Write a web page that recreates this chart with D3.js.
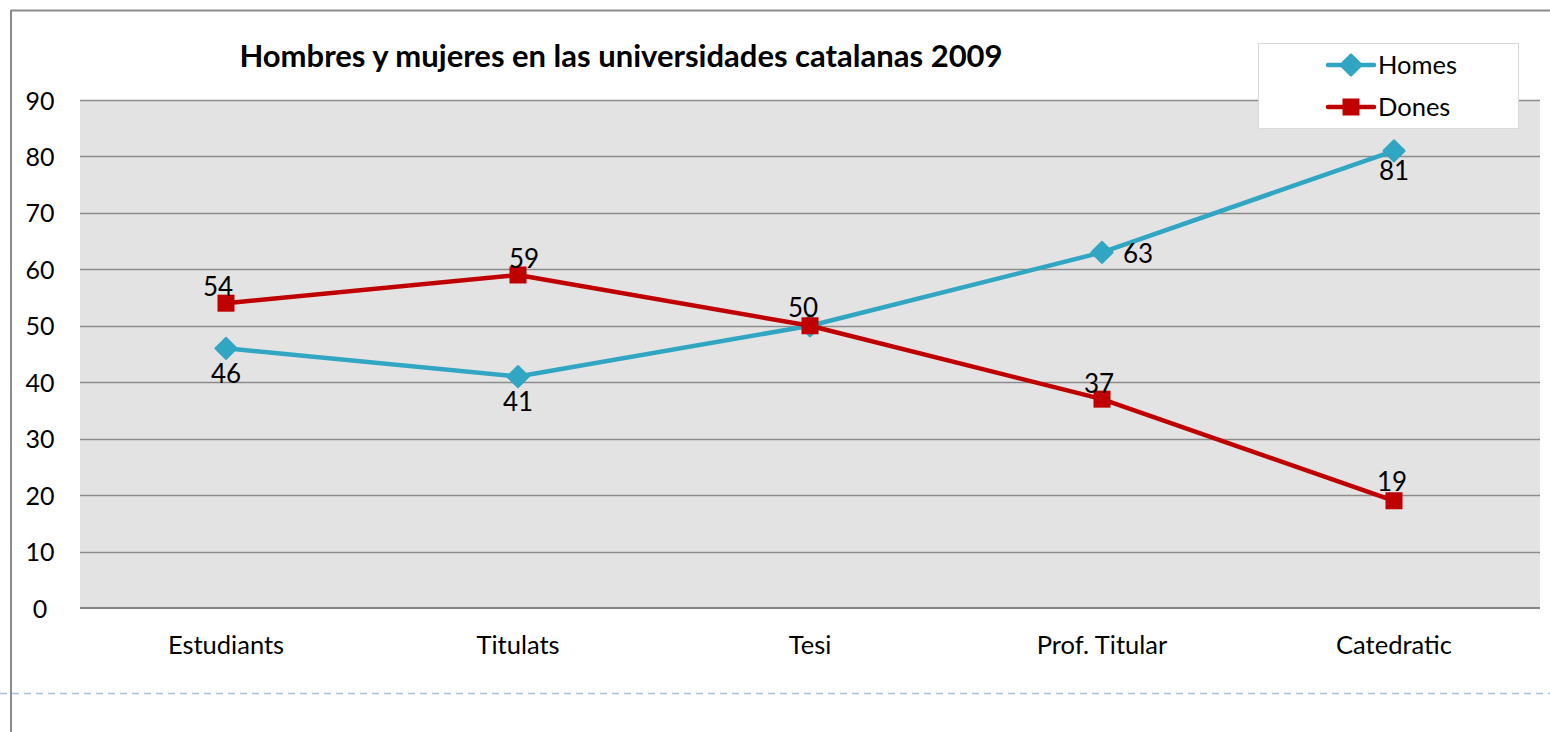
<!DOCTYPE html>
<html><head><meta charset="utf-8">
<script src="https://cdn.jsdelivr.net/npm/d3@7"></script>
<style>body{margin:0;background:#fff}svg{display:block}</style>
</head><body>
<svg id="c" width="1550" height="732"></svg>
<script>
const categories = ["Estudiants","Titulats","Tesi","Prof. Titular","Catedratic"];
const homes = [46,41,50,63,81];
const dones = [54,59,50,37,19];
const yTicks = [0,10,20,30,40,50,60,70,80,90];
const seriesNames = ["Homes","Dones"];
const title = "Hombres y mujeres en las universidades catalanas 2009";

const svg = d3.select("#c");
const font = "Lato, 'Open Sans', sans-serif";
const L=80, R=1540, T=100, B=608;
const x = d3.scaleBand().domain(categories).range([L,R]);
const y = d3.scaleLinear().domain([0,90]).range([B,T]);

// frame
svg.append("line").attr("x1",11).attr("x2",1550).attr("y1",10.5).attr("y2",10.5).attr("stroke","#8c8c8c").attr("stroke-width",2);
svg.append("line").attr("x1",11).attr("x2",11).attr("y1",10).attr("y2",732).attr("stroke","#8c8c8c").attr("stroke-width",2);
svg.append("line").attr("x1",0).attr("x2",1550).attr("y1",693.5).attr("y2",693.5).attr("stroke","#a6c0de").attr("stroke-width",1.5).attr("stroke-dasharray","7,5");

// plot bg
svg.append("rect").attr("x",L).attr("y",T).attr("width",R-L).attr("height",B-T).attr("fill","#e3e3e3");
// grid
svg.append("g").selectAll("line").data(yTicks.filter(d=>d>0)).join("line")
 .attr("x1",L).attr("x2",R).attr("y1",d=>Math.round(y(d))+0.5).attr("y2",d=>Math.round(y(d))+0.5)
 .attr("stroke","#8c8c8c").attr("stroke-width",1.3);
svg.append("line").attr("x1",L).attr("x2",R).attr("y1",B).attr("y2",B).attr("stroke","#858585").attr("stroke-width",2);

// y axis labels
const yAxis = d3.axisLeft(y).tickValues(yTicks).tickSize(0).tickPadding(0);
const gy = svg.append("g").attr("transform",`translate(${L-40},0)`).call(yAxis);
gy.select(".domain").remove();
gy.selectAll("text").attr("font-family",font).attr("font-size",25).attr("fill","#000").attr("text-anchor","middle").attr("dy","0.36em");

// x axis labels
const xAxis = d3.axisBottom(x).tickSize(0).tickPadding(0);
const gx = svg.append("g").attr("transform",`translate(0,${B+37})`).call(xAxis);
gx.select(".domain").remove();
gx.selectAll("text").attr("font-family",font).attr("font-size",25.5).attr("fill","#000").attr("dy","0.36em");

const cx = d=>x(d)+x.bandwidth()/2;
const colH = "#31a6c3", colD = "#c00000";
const line = d3.line().x((d,i)=>cx(categories[i])).y(d=>y(d));

svg.append("path").datum(homes).attr("d",line).attr("fill","none").attr("stroke",colH).attr("stroke-width",4.5).attr("stroke-linejoin","round");
svg.append("g").selectAll("path").data(homes).join("path")
 .attr("d",d3.symbol().type(d3.symbolDiamond2).size(270)())
 .attr("transform",(d,i)=>`translate(${cx(categories[i])},${y(d)})`)
 .attr("fill",colH).attr("stroke",colH).attr("stroke-width",2.5).attr("stroke-linejoin","round");

svg.append("path").datum(dones).attr("d",line).attr("fill","none").attr("stroke",colD).attr("stroke-width",4.5).attr("stroke-linejoin","round");
svg.append("g").selectAll("rect").data(dones).join("rect")
 .attr("x",(d,i)=>cx(categories[i])-8.5).attr("y",d=>y(d)-8.5).attr("width",17).attr("height",17).attr("fill",colD);

// labels (centres relative to points)
const hdx = [0,0,0,36,0], hdy = [25,25,25,1,20];
const ddx = [-8,6,-7,-3,-2], ddy = [-17,-16,-18,-16,-19];
svg.append("g").selectAll("text").data(homes).join("text")
 .attr("x",(d,i)=>cx(categories[i])+hdx[i])
 .attr("y",(d,i)=>y(d)+hdy[i]).attr("dy","0.36em")
 .attr("text-anchor","middle").attr("font-family",font).attr("font-size",26).attr("fill","#000")
 .text((d,i)=> i===2 ? "" : d);
svg.append("g").selectAll("text").data(dones).join("text")
 .attr("x",(d,i)=>cx(categories[i])+ddx[i])
 .attr("y",(d,i)=>y(d)+ddy[i]).attr("dy","0.36em")
 .attr("text-anchor","middle").attr("font-family",font).attr("font-size",26).attr("fill","#000").text(d=>d);

// title
svg.append("text").attr("x",621).attr("y",67).attr("text-anchor","middle").attr("font-family",font)
 .attr("font-weight","bold").attr("font-size",31).attr("fill","#000").text(title);

// legend
const lg = svg.append("g");
lg.append("rect").attr("x",1258.5).attr("y",43.5).attr("width",260).attr("height",85).attr("fill","#fff").attr("stroke","#d9d9d9").attr("stroke-width",1);
const ly = [65,107];
seriesNames.forEach((n,i)=>{
  const c = i===0?colH:colD;
  lg.append("line").attr("x1",1328).attr("x2",1374).attr("y1",ly[i]).attr("y2",ly[i]).attr("stroke",c).attr("stroke-width",4.5).attr("stroke-linecap","round");
  if(i===0){
    lg.append("path").attr("d",d3.symbol().type(d3.symbolDiamond2).size(270)()).attr("transform",`translate(1351,${ly[i]})`).attr("fill",c).attr("stroke",c).attr("stroke-width",2.5).attr("stroke-linejoin","round");
  } else {
    lg.append("rect").attr("x",1342.5).attr("y",ly[i]-8.5).attr("width",17).attr("height",17).attr("fill",c);
  }
  lg.append("text").attr("x",1378).attr("y",ly[i]).attr("dy","0.36em").attr("font-family",font).attr("font-size",25.5).attr("fill","#000").text(n);
});
</script>
</body></html>
